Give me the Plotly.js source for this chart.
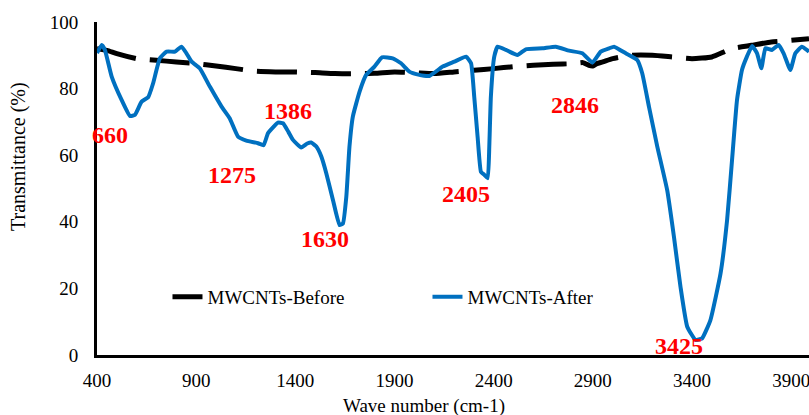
<!DOCTYPE html>
<html>
<head>
<meta charset="utf-8">
<script src="https://cdn.plot.ly/plotly-3.0.1.min.js"></script>
<style>html,body{margin:0;padding:0;background:#fff;}#chart{width:809px;height:415px;}</style>
</head>
<body>
<div id="chart"></div>
<script>
// Wave numbers (cm-1) and transmittance (%)
const beforeWave = [400, 450, 500, 600, 700, 800, 900, 1000, 1100, 1200, 1300, 1400, 1500, 1600, 1700, 1800, 1900, 2000, 2100, 2200, 2300, 2400, 2500, 2600, 2700, 2800, 2850, 2880, 2900, 2920, 2950, 3000, 3100, 3200, 3300, 3400, 3500, 3600, 3700, 3800, 3900, 3990];
const beforeT = [92, 91.5, 90.5, 89, 88.5, 88, 87.5, 86.8, 86, 85.2, 85, 85, 84.8, 84.5, 84.5, 84.6, 85, 84.8, 84.5, 85, 85.5, 86, 86.6, 87, 87.3, 87.5, 87.8, 87, 86.8, 87.5, 88, 89, 90, 90, 89.5, 89, 89.5, 92, 93, 94, 94.5, 95];

const afterWave = [400, 424, 440, 474, 524, 566, 591, 625, 658, 683, 717, 751, 793, 826, 851, 877, 918, 969, 1028, 1069, 1111, 1153, 1212, 1240, 1262, 1290, 1312, 1338, 1365, 1388, 1430, 1460, 1480, 1506, 1531, 1556, 1590, 1623, 1640, 1657, 1673, 1690, 1724, 1757, 1799, 1837, 1891, 1933, 1975, 2020, 2076, 2143, 2202, 2261, 2286, 2302, 2319, 2336, 2353, 2370, 2378, 2386, 2403, 2420, 2462, 2520, 2562, 2646, 2713, 2780, 2847, 2898, 2940, 2982, 3007, 3066, 3124, 3149, 3183, 3225, 3275, 3309, 3342, 3376, 3418, 3451, 3493, 3544, 3577, 3602, 3627, 3652, 3677, 3703, 3728, 3750, 3770, 3803, 3837, 3862, 3896, 3921, 3954, 3990];
const afterT = [90.7, 93.1, 91.6, 83.6, 76.6, 71.8, 72.1, 76.1, 77.4, 81.6, 89.1, 91.1, 91.1, 92.6, 90.6, 88.1, 86.1, 80.6, 74.6, 71.1, 65.6, 64.4, 63.6, 63.0, 66.6, 68.5, 69.8, 69.6, 67.0, 64.6, 62.3, 63.5, 63.8, 62.6, 59.6, 54.6, 46.5, 39.0, 39.5, 47.5, 62.6, 71.6, 79.1, 84.1, 86.6, 89.4, 89.1, 87.6, 85.1, 84.2, 83.8, 86.6, 88.1, 89.6, 87.6, 77.6, 65.6, 55.0, 54.1, 53.1, 62.6, 77.6, 89.6, 92.6, 91.6, 90.1, 91.8, 92.1, 92.6, 91.4, 90.6, 87.8, 91.1, 92.1, 92.6, 90.6, 88.6, 84.6, 74.6, 62.6, 49.5, 35.5, 20.5, 8.5, 4.5, 5.0, 10.5, 24.5, 40.5, 58.6, 76.6, 85.6, 89.6, 92.8, 90.6, 86.1, 92.1, 91.6, 93.1, 90.6, 85.6, 90.6, 92.6, 91.1];

const seriesNames = ["MWCNTs-Before", "MWCNTs-After"];
const peakLabels = ["660", "1386", "1275", "1630", "2405", "2846", "3425"];
const peakLabelWave = [466, 1363, 1081, 1549, 2261, 2810, 3335];
const peakLabelT = [66, 73.4, 54, 34.8, 48.3, 75, 2.7];
const xTickVals = [400, 900, 1400, 1900, 2400, 2900, 3400, 3900];
const yTickVals = [0, 20, 40, 60, 80, 100];

const serif = "Liberation Serif, Times New Roman, serif";

const traces = [
  {x: beforeWave, y: beforeT, name: seriesNames[0], mode: "lines", type: "scatter",
   line: {color: "#000000", width: 5, dash: "40px,14px", shape: "spline", smoothing: 0.5}},
  {x: afterWave, y: afterT, name: seriesNames[1], mode: "lines", type: "scatter",
   line: {color: "#0070C0", width: 4, shape: "spline", smoothing: 0.4}}
];

const annotations = peakLabels.map((t, i) => ({
  x: peakLabelWave[i], y: peakLabelT[i], xref: "x", yref: "y", text: t, showarrow: false,
  xanchor: "center", yanchor: "middle",
  font: {family: serif, size: 24, color: "#FF0000", weight: "bold"}
}));
annotations.push({
  xref: "paper", yref: "paper", x: (424 - 97) / 712, y: (355 - 406) / 333,
  xanchor: "center", yanchor: "middle", showarrow: false,
  text: "Wave number (cm-1)", font: {family: serif, size: 19, color: "#000"}
});
annotations.push({
  xref: "paper", yref: "paper", x: (18 - 97) / 712, y: (355 - 157) / 333,
  xanchor: "center", yanchor: "middle", showarrow: false, textangle: -90,
  text: "Transmittance (%)", font: {family: serif, size: 20, color: "#000"}
});

const layout = {
  width: 809, height: 415,
  margin: {l: 97, r: 0, t: 22, b: 60, pad: 0},
  paper_bgcolor: "#fff", plot_bgcolor: "#fff",
  showlegend: true,
  legend: {orientation: "h", x: 0.099, y: (355 - 297) / 333, xanchor: "left", yanchor: "middle",
    font: {family: serif, size: 19, color: "#000"}, bgcolor: "rgba(0,0,0,0)",
    entrywidth: 215, entrywidthmode: "pixels", itemwidth: 30},
  xaxis: {range: [400, 3990], tickvals: xTickVals, ticktext: xTickVals.map(String),
    showgrid: false, zeroline: false, showline: true, linecolor: "#000", linewidth: 3,
    ticks: "", ticklabelstandoff: 6, ticklabeloverflow: "allow",
    tickfont: {family: serif, size: 19, color: "#000"}},
  yaxis: {range: [0, 100], tickvals: yTickVals, ticktext: yTickVals.map(String),
    showgrid: false, zeroline: false, showline: true, linecolor: "#000", linewidth: 3,
    ticks: "", ticklabelstandoff: 12,
    tickfont: {family: serif, size: 19, color: "#000"}},
  annotations: annotations
};

Plotly.newPlot("chart", traces, layout, {staticPlot: true, displayModeBar: false});
</script>
</body>
</html>
